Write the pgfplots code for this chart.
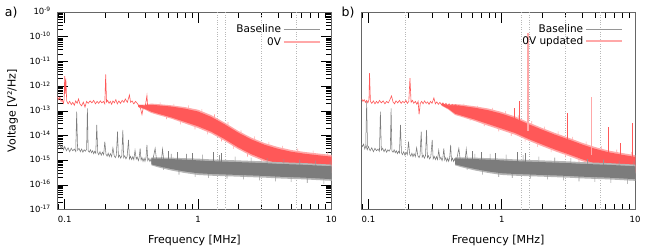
\documentclass[border=0pt]{standalone}
\usepackage{fontspec}
\setmainfont{DejaVu Sans}
\usepackage{pgfplots}
\pgfplotsset{compat=1.18}
\usepackage{pgfplotstable}

\definecolor{redC}{RGB}{255,88,88}
\definecolor{redL}{RGB}{255,168,168}
\definecolor{grayC}{RGB}{124,124,124}
\definecolor{grayM}{RGB}{150,150,150}
\definecolor{grayL}{RGB}{182,182,182}

\pgfplotstableread{
f v
0.447 1.29e-15
0.501 1.29e-15
0.631 1.26e-15
0.794 1.20e-15
1.0 1.15e-15
1.259 1.07e-15
1.413 1.05e-15
1.585 1.02e-15
1.995 9.77e-16
2.512 9.33e-16
3.162 8.91e-16
3.981 8.32e-16
5.012 7.94e-16
6.31 7.59e-16
7.943 7.08e-16
10.05 6.61e-16
10.05 1.45e-16
7.943 1.55e-16
6.31 1.66e-16
5.012 1.74e-16
3.981 1.82e-16
3.162 1.95e-16
2.512 2.04e-16
1.995 2.14e-16
1.585 2.24e-16
1.413 2.29e-16
1.259 2.34e-16
1.0 2.51e-16
0.794 3.02e-16
0.631 3.80e-16
0.501 5.13e-16
0.447 6.17e-16
}\grayout

\pgfplotstableread{
f v
0.447 1.17e-15
0.501 1.15e-15
0.631 1.10e-15
0.794 1.05e-15
1.0 9.77e-16
1.259 9.12e-16
1.413 8.91e-16
1.585 8.71e-16
1.995 8.32e-16
2.512 7.94e-16
3.162 7.59e-16
3.981 7.08e-16
5.012 6.76e-16
6.31 6.46e-16
7.943 6.03e-16
10.05 5.62e-16
10.05 1.70e-16
7.943 1.82e-16
6.31 1.95e-16
5.012 2.04e-16
3.981 2.14e-16
3.162 2.29e-16
2.512 2.40e-16
1.995 2.51e-16
1.585 2.63e-16
1.413 2.69e-16
1.259 2.75e-16
1.0 2.95e-16
0.794 3.47e-16
0.631 4.37e-16
0.501 5.75e-16
0.447 6.76e-16
}\grayin

\pgfplotstableread{
f v
0.55 8.5e-16
0.55 4.0e-16
0.55 8.5e-16
0.63 7.6e-16
0.63 1.78e-15
0.63 7.6e-16
0.72 6.8e-16
0.72 2.6e-16
0.72 6.8e-16
0.82 6.2e-16
0.82 1.78e-15
0.82 6.2e-16
0.95 5.6e-16
0.95 2.1e-16
0.95 5.6e-16
1.08 5.3e-16
1.08 1.66e-15
1.08 5.3e-16
1.2 5.1e-16
1.2 1.9e-16
1.2 5.1e-16
1.45 4.9e-16
1.45 1.58e-15
1.45 4.9e-16
1.65 4.8e-16
1.65 1.8e-16
1.65 4.8e-16
1.9 4.6e-16
1.9 1.38e-15
1.9 4.6e-16
2.2 4.5e-16
2.2 1.66e-16
2.2 4.5e-16
2.5 4.4e-16
2.5 1.26e-15
2.5 4.4e-16
2.9 4.2e-16
2.9 1.51e-16
2.9 4.2e-16
3.3 4.1e-16
3.3 1.20e-15
3.3 4.1e-16
3.8 3.9e-16
3.8 1.38e-16
3.8 3.9e-16
4.4 3.75e-16
4.4 1.10e-15
4.4 3.75e-16
5.0 3.7e-16
5.0 1.32e-16
5.0 3.7e-16
5.8 3.55e-16
5.8 1.05e-15
5.8 3.55e-16
6.6 3.4e-16
6.6 1.20e-16
6.6 3.4e-16
7.6 3.3e-16
7.6 9.55e-16
7.6 3.3e-16
8.8 3.15e-16
8.8 1.10e-16
8.8 3.15e-16
9.8 3.05e-16
9.8 8.91e-16
9.8 3.05e-16
}\grayspk

\pgfplotstableread{
f v
0.088 4.79e-15
0.090 3.55e-15
0.092 4.47e-15
0.094 2.82e-15
0.096 3.98e-15
0.098 2.63e-15
0.100 3.55e-15
0.103 2.40e-15
0.106 3.16e-15
0.109 2.19e-15
0.112 3.02e-15
0.115 2.40e-15
0.118 2.82e-15
0.121 2.24e-15
0.123 9.12e-14
0.125 2.51e-15
0.128 3.02e-15
0.131 2.19e-15
0.134 2.82e-15
0.137 2.09e-15
0.140 2.63e-15
0.143 2.29e-15
0.146 2.82e-15
0.148 1.26e-13
0.150 2.40e-15
0.153 2.09e-15
0.156 2.63e-15
0.159 2.0e-15
0.162 2.40e-15
0.165 1.82e-15
0.168 2.29e-15
0.171 1.91e-15
0.174 2.69e-14
0.177 2.0e-15
0.180 1.66e-15
0.184 2.19e-15
0.188 1.58e-15
0.192 2.09e-15
0.196 1.66e-15
0.200 5.62e-15
0.204 1.74e-15
0.208 1.45e-15
0.212 1.91e-15
0.216 1.38e-15
0.220 1.82e-15
0.225 1.38e-15
0.230 3.16e-15
0.235 1.51e-15
0.240 1.26e-15
0.244 1.58e-15
0.249 1.41e-14
0.253 1.32e-15
0.258 1.58e-15
0.263 1.20e-15
0.268 1.51e-15
0.273 1.66e-14
0.277 1.26e-15
0.282 1.51e-15
0.288 1.12e-15
0.294 1.41e-15
0.301 6.61e-15
0.306 1.12e-15
0.312 1.41e-15
0.318 1.05e-15
0.324 1.38e-15
0.330 1.05e-15
0.337 2.51e-15
0.344 1.10e-15
0.350 1.32e-15
0.357 9.55e-16
0.362 1.26e-15
0.368 3.02e-15
0.374 1.0e-15
0.380 1.26e-15
0.387 8.91e-16
0.394 1.20e-15
0.400 8.91e-16
0.407 1.26e-15
0.414 4.17e-15
0.420 9.55e-16
0.428 1.20e-15
0.436 8.71e-16
0.444 1.12e-15
0.452 8.32e-16
0.460 1.12e-15
0.477 3.0e-15
0.490 9.0e-16
0.510 1.10e-15
0.530 8.3e-16
0.542 2.8e-15
0.555 8.5e-16
}\graythin

\pgfplotsset{legend image code/.code={\draw[#1] (0pt,0pt) -- (36pt,0pt);}}

\begin{document}
\begin{tikzpicture}
\useasboundingbox (0,0) rectangle (664pt,249pt);

% ---------------- panel a ----------------
\begin{axis}[name=axA, at={(57.3pt,39.5pt)}, anchor=south west,
  xmode=log, ymode=log, scale only axis,
  width=274.3pt, height=197.5pt,
  xmin=0.088, xmax=10.05, ymin=1e-17, ymax=1e-9,
  xtick={0.1,1,10}, xticklabels={0.1,1,10},
  minor xtick={0.09,0.2,0.3,0.4,0.5,0.6,0.7,0.8,0.9,2,3,4,5,6,7,8,9},
  ytick={1e-17,1e-16,1e-15,1e-14,1e-13,1e-12,1e-11,1e-10,1e-9},
  yticklabels={10\textsuperscript{-17},10\textsuperscript{-16},10\textsuperscript{-15},10\textsuperscript{-14},10\textsuperscript{-13},10\textsuperscript{-12},10\textsuperscript{-11},10\textsuperscript{-10},10\textsuperscript{-9}},
  minor ytick={2e-17,3e-17,4e-17,5e-17,6e-17,7e-17,8e-17,9e-17,
   2e-16,3e-16,4e-16,5e-16,6e-16,7e-16,8e-16,9e-16,
   2e-15,3e-15,4e-15,5e-15,6e-15,7e-15,8e-15,9e-15,
   2e-14,3e-14,4e-14,5e-14,6e-14,7e-14,8e-14,9e-14,
   2e-13,3e-13,4e-13,5e-13,6e-13,7e-13,8e-13,9e-13,
   2e-12,3e-12,4e-12,5e-12,6e-12,7e-12,8e-12,9e-12,
   2e-11,3e-11,4e-11,5e-11,6e-11,7e-11,8e-11,9e-11,
   2e-10,3e-10,4e-10,5e-10,6e-10,7e-10,8e-10,9e-10},
  tick align=inside,
  major tick length=11pt, minor tick length=6pt,
  tick style={black, line width=0.5pt},
  axis line style={black!60, line width=0.6pt},
  xticklabel style={font=\fontsize{8.5}{10}\selectfont, yshift=-3pt},
  yticklabel style={font=\fontsize{8.5}{10}\selectfont, xshift=-3pt, yshift=0.8pt},
  xlabel={Frequency [MHz]},
  xlabel style={font=\fontsize{11}{13}\selectfont, at={(axis description cs:0.5,0)}, anchor=center, yshift=-30.5pt},
  ylabel={Voltage [V²/Hz]},
  ylabel style={font=\fontsize{11}{13}\selectfont, at={(axis description cs:-0.163,0.5)}, anchor=center},
  extra x ticks={1.4,1.6,3,5.5},
  extra x tick labels={},
  extra x tick style={grid=major, major tick length=0pt},
  grid style={dotted, black!28, line width=0.5pt},
  legend style={at={(1,1)}, anchor=north east, xshift=-11pt, yshift=-10.5pt,
    draw=none, fill=none, inner sep=0pt, row sep=-0.8pt,
    font=\fontsize{10.5}{12}\selectfont},
  legend cell align=right,
  legend plot pos=right,
]
\addlegendimage{grayM, line width=0.5pt}\addlegendentry{Baseline}
\addlegendimage{redL, line width=1.4pt}\addlegendentry{0V}

\addplot[fill=redL, draw=none, forget plot] coordinates {
(0.355,1.78e-13) (0.398,1.78e-13) (0.447,1.95e-13) (0.501,1.86e-13) (0.631,1.66e-13) (0.794,1.41e-13)
(1.0,1.10e-13) (1.259,6.61e-14) (1.413,4.68e-14) (1.585,3.31e-14) (1.995,1.55e-14) (2.512,8.13e-15)
(3.162,4.90e-15) (3.981,3.39e-15) (5.012,2.57e-15) (6.31,2.14e-15) (7.943,1.86e-15) (10.05,1.62e-15)
(10.05,2.95e-16) (7.943,3.39e-16) (6.31,3.89e-16) (5.012,4.68e-16) (3.981,6.17e-16) (3.162,8.91e-16)
(2.512,1.48e-15) (1.995,2.82e-15) (1.585,6.03e-15) (1.413,8.51e-15) (1.259,1.20e-14) (1.0,2.0e-14)
(0.794,3.09e-14) (0.631,4.79e-14) (0.501,6.76e-14) (0.447,8.13e-14) (0.398,1.12e-13) (0.355,1.41e-13)
};
\addplot[redL, line width=0.6pt, forget plot] coordinates {
(0.52,1.07e-13) (0.52,2.19e-13) (0.52,1.07e-13) (0.58,9.77e-14) (0.58,4.57e-14) (0.58,9.77e-14)
(0.66,8.51e-14) (0.66,1.91e-13) (0.66,8.51e-14) (0.74,7.24e-14) (0.74,2.82e-14) (0.74,7.24e-14)
(0.85,6.03e-14) (0.85,1.66e-13) (0.85,6.03e-14) (0.95,5.13e-14) (0.95,1.78e-14) (0.95,5.13e-14)
(1.07,3.98e-14) (1.07,1.17e-13) (1.07,3.98e-14) (1.18,3.24e-14) (1.18,1.10e-14) (1.18,3.24e-14)
(1.33,2.40e-14) (1.33,7.08e-14) (1.33,2.40e-14) (1.50,1.70e-14) (1.50,5.75e-15) (1.50,1.70e-14)
(1.68,1.17e-14) (1.68,3.47e-14) (1.68,1.17e-14) (1.85,8.51e-15) (1.85,2.88e-15) (1.85,8.51e-15)
(2.1,5.50e-15) (2.1,1.62e-14) (2.1,5.50e-15) (2.35,4.07e-15) (2.35,1.38e-15) (2.35,4.07e-15)
(2.65,3.09e-15) (2.65,9.12e-15) (2.65,3.09e-15) (3.0,2.34e-15) (3.0,7.94e-16) (3.0,2.34e-15)
(3.4,1.86e-15) (3.4,5.50e-15) (3.4,1.86e-15) (3.8,1.55e-15) (3.8,5.25e-16) (3.8,1.55e-15)
(4.3,1.29e-15) (4.3,3.80e-15) (4.3,1.29e-15) (4.9,1.12e-15) (4.9,3.80e-16) (4.9,1.12e-15)
(5.6,1.0e-15) (5.6,2.95e-15) (5.6,1.0e-15) (6.4,9.12e-16) (6.4,3.09e-16) (6.4,9.12e-16)
(7.3,8.32e-16) (7.3,2.45e-15) (7.3,8.32e-16) (8.3,7.76e-16) (8.3,2.63e-16) (8.3,7.76e-16)
(9.4,7.24e-16) (9.4,2.14e-15) (9.4,7.24e-16)
};
\addplot[fill=redC, draw=none, forget plot] coordinates {
(0.355,1.70e-13) (0.398,1.66e-13) (0.447,1.74e-13) (0.501,1.66e-13) (0.631,1.48e-13) (0.794,1.23e-13)
(1.0,9.33e-14) (1.259,5.62e-14) (1.413,3.98e-14) (1.585,2.82e-14) (1.995,1.32e-14) (2.512,6.92e-15)
(3.162,4.17e-15) (3.981,2.88e-15) (5.012,2.19e-15) (6.31,1.82e-15) (7.943,1.58e-15) (10.05,1.38e-15)
(10.05,3.47e-16) (7.943,3.98e-16) (6.31,4.57e-16) (5.012,5.50e-16) (3.981,7.24e-16) (3.162,1.05e-15)
(2.512,1.74e-15) (1.995,3.31e-15) (1.585,7.08e-15) (1.413,1.0e-14) (1.259,1.41e-14) (1.0,2.34e-14)
(0.794,3.55e-14) (0.631,5.37e-14) (0.501,7.59e-14) (0.447,9.12e-14) (0.398,1.20e-13) (0.355,1.48e-13)
};
\addplot[redC, line width=0.6pt, forget plot] coordinates {
(0.088,3.8e-13) (0.090,2.82e-13) (0.092,3.55e-13) (0.094,2.4e-13) (0.096,2.63e-13)
(0.098,2.0e-13) (0.099,2.82e-13) (0.100,2.5e-12) (0.101,5.0e-13) (0.102,2.0e-12)
(0.1035,2.5e-13) (0.106,1.9e-13) (0.109,2.4e-13) (0.112,1.78e-13) (0.115,2.19e-13)
(0.118,1.66e-13) (0.121,2.5e-13) (0.124,2.0e-13) (0.127,3.0e-13) (0.130,1.9e-13)
(0.134,1.58e-13) (0.138,2.24e-13) (0.142,1.41e-13) (0.146,2.4e-13) (0.150,2.0e-13)
(0.155,2.5e-13) (0.160,2.09e-13) (0.165,2.63e-13) (0.170,1.9e-13) (0.175,2.4e-13)
(0.180,2.0e-13) (0.185,2.5e-13) (0.190,2.09e-13) (0.195,2.4e-13) (0.200,1.9e-13)
(0.203,3.0e-12) (0.206,2.24e-13) (0.210,2.63e-13) (0.215,2.0e-13) (0.220,2.4e-13)
(0.225,1.82e-13) (0.230,2.5e-13) (0.236,2.09e-13) (0.242,2.82e-13) (0.248,1.9e-13)
(0.255,2.5e-13) (0.262,2.0e-13) (0.270,2.63e-13) (0.278,2.19e-13) (0.285,3.0e-13)
(0.295,2.19e-13) (0.306,4.37e-13) (0.312,2.19e-13) (0.320,2.5e-13) (0.330,1.9e-13)
(0.340,2.4e-13) (0.350,2.0e-13) (0.360,1.58e-13) (0.370,1.26e-13) (0.380,7.08e-14)
(0.390,1.51e-13) (0.400,1.26e-13) (0.414,4.17e-13) (0.420,1.2e-13) (0.430,1.51e-13)
(0.440,1.12e-13) (0.450,1.45e-13) (0.460,1.10e-13) (0.470,1.38e-13) (0.485,1.05e-13)
(0.50,1.41e-13)
};

\addplot[fill=grayL, draw=none, forget plot] table[x=f,y=v]{\grayout};
\addplot[grayM, line width=0.55pt, forget plot] table[x=f,y=v]{\grayspk};
\addplot[fill=grayC, draw=none, forget plot] table[x=f,y=v]{\grayin};
\addplot[grayC, line width=0.55pt, forget plot] table[x=f,y=v]{\graythin};
\addplot[grayC, line width=0.5pt, forget plot] coordinates {(0.60,8.0e-16) (0.60,2.4e-15)};
\addplot[grayC, line width=0.5pt, forget plot] coordinates {(0.70,7.5e-16) (0.70,2.2e-15)};
\addplot[grayC, line width=0.5pt, forget plot] coordinates {(0.90,7.0e-16) (0.90,2.0e-15)};
\addplot[grayC, line width=0.5pt, forget plot] coordinates {(1.3,6.5e-16) (1.3,2.1e-15)};
\addplot[grayC, line width=0.5pt, forget plot] coordinates {(1.5,6.0e-16) (1.5,1.9e-15)};
\end{axis}

% ---------------- panel b ----------------
\begin{axis}[name=axB, at={(361pt,39.5pt)}, anchor=south west,
  xmode=log, ymode=log, scale only axis,
  width=274.3pt, height=197.5pt,
  xmin=0.088, xmax=10.05, ymin=1e-17, ymax=1e-9,
  xtick={0.1,1,10}, xticklabels={0.1,1,10},
  minor xtick={0.09,0.2,0.3,0.4,0.5,0.6,0.7,0.8,0.9,2,3,4,5,6,7,8,9},
  ytick=\empty,
  tick align=inside,
  major tick length=11pt, minor tick length=6pt,
  tick style={black, line width=0.5pt},
  axis line style={black!60, line width=0.6pt},
  xticklabel style={font=\fontsize{8.5}{10}\selectfont, yshift=-3pt},
  xlabel={Frequency [MHz]},
  xlabel style={font=\fontsize{11}{13}\selectfont, at={(axis description cs:0.5,0)}, anchor=center, yshift=-30.5pt},
  extra x ticks={0.19,1.4,1.6,3,5.5},
  extra x tick labels={},
  extra x tick style={grid=major, major tick length=0pt},
  grid style={dotted, black!28, line width=0.5pt},
  legend style={at={(1,1)}, anchor=north east, xshift=-12.5pt, yshift=-10.5pt,
    draw=none, fill=none, inner sep=0pt, row sep=-1.8pt,
    font=\fontsize{10.5}{12}\selectfont},
  legend cell align=right,
  legend plot pos=right,
]
\addlegendimage{grayM, line width=0.5pt}\addlegendentry{Baseline}
\addlegendimage{redL, line width=1.4pt}\addlegendentry{0V updated}

\addplot[fill=redL, draw=none, forget plot] coordinates {
(0.355,2.0e-13) (0.398,1.78e-13) (0.447,1.86e-13) (0.501,1.78e-13) (0.631,1.51e-13) (0.794,1.23e-13)
(1.0,8.91e-14) (1.259,5.89e-14) (1.413,4.47e-14) (1.585,3.39e-14) (1.995,2.04e-14) (2.512,1.26e-14)
(3.162,8.13e-15) (3.981,5.13e-15) (5.012,3.39e-15) (6.31,2.45e-15) (7.943,1.95e-15) (10.05,1.58e-15)
(10.05,2.88e-16) (7.943,3.55e-16) (6.31,4.47e-16) (5.012,6.17e-16) (3.981,9.33e-16) (3.162,1.48e-15)
(2.512,2.29e-15) (1.995,3.72e-15) (1.585,6.17e-15) (1.413,8.13e-15) (1.259,1.07e-14) (1.0,1.62e-14)
(0.794,2.45e-14) (0.631,3.80e-14) (0.501,5.62e-14) (0.447,6.76e-14) (0.398,1.12e-13) (0.355,1.58e-13)
};
\addplot[redL, line width=0.6pt, forget plot] coordinates {
(0.52,9.55e-14) (0.52,1.95e-13) (0.52,9.55e-14) (0.58,8.71e-14) (0.58,3.98e-14) (0.58,8.71e-14)
(0.66,7.24e-14) (0.66,1.58e-13) (0.66,7.24e-14) (0.74,6.17e-14) (0.74,2.40e-14) (0.74,6.17e-14)
(0.85,4.90e-14) (0.85,1.32e-13) (0.85,4.90e-14) (0.95,4.17e-14) (0.95,1.45e-14) (0.95,4.17e-14)
(1.07,3.31e-14) (1.07,9.55e-14) (1.07,3.31e-14) (1.18,2.82e-14) (1.18,9.55e-15) (1.18,2.82e-14)
(1.33,2.19e-14) (1.33,6.46e-14) (1.33,2.19e-14) (1.50,1.66e-14) (1.50,5.62e-15) (1.50,1.66e-14)
(1.68,1.29e-14) (1.68,3.80e-14) (1.68,1.29e-14) (1.85,1.02e-14) (1.85,3.47e-15) (1.85,1.02e-14)
(2.1,7.76e-15) (2.1,2.29e-14) (2.1,7.76e-15) (2.35,6.17e-15) (2.35,2.09e-15) (2.35,6.17e-15)
(2.65,4.90e-15) (2.65,1.45e-14) (2.65,4.90e-15) (3.0,3.80e-15) (3.0,1.29e-15) (3.0,3.80e-15)
(3.4,2.95e-15) (3.4,8.71e-15) (3.4,2.95e-15) (3.8,2.40e-15) (3.8,8.13e-16) (3.8,2.40e-15)
(4.3,1.91e-15) (4.3,5.62e-15) (4.3,1.91e-15) (4.9,1.51e-15) (4.9,5.13e-16) (4.9,1.51e-15)
(5.6,1.26e-15) (5.6,3.72e-15) (5.6,1.26e-15) (6.4,1.02e-15) (6.4,3.47e-16) (6.4,1.02e-15)
(7.3,9.12e-16) (7.3,2.69e-15) (7.3,9.12e-16) (8.3,7.94e-16) (8.3,2.69e-16) (8.3,7.94e-16)
(9.4,7.08e-16) (9.4,2.09e-15) (9.4,7.08e-16)
};
\addplot[fill=redC, draw=none, forget plot] coordinates {
(0.355,1.91e-13) (0.398,1.66e-13) (0.447,1.66e-13) (0.501,1.58e-13) (0.631,1.32e-13) (0.794,1.05e-13)
(1.0,7.59e-14) (1.259,5.01e-14) (1.413,3.80e-14) (1.585,2.88e-14) (1.995,1.74e-14) (2.512,1.07e-14)
(3.162,6.92e-15) (3.981,4.37e-15) (5.012,2.88e-15) (6.31,2.09e-15) (7.943,1.66e-15) (10.05,1.35e-15)
(10.05,3.39e-16) (7.943,4.17e-16) (6.31,5.25e-16) (5.012,7.24e-16) (3.981,1.10e-15) (3.162,1.74e-15)
(2.512,2.69e-15) (1.995,4.37e-15) (1.585,7.24e-15) (1.413,9.55e-15) (1.259,1.26e-14) (1.0,1.91e-14)
(0.794,2.88e-14) (0.631,4.37e-14) (0.501,6.31e-14) (0.447,7.59e-14) (0.398,1.20e-13) (0.355,1.66e-13)
};
\addplot[redC, line width=0.6pt, forget plot] coordinates {
(0.089,3.02e-13) (0.091,2.40e-13) (0.093,2.82e-13) (0.095,2.19e-13) (0.097,2.63e-13)
(0.099,2.09e-13) (0.101,2.82e-13) (0.102,3.31e-12) (0.1035,2.40e-13) (0.106,2.0e-13)
(0.109,2.51e-13) (0.112,1.91e-13) (0.115,2.40e-13) (0.118,2.0e-13) (0.121,2.63e-13)
(0.125,2.09e-13) (0.129,2.51e-13) (0.133,1.91e-13) (0.137,2.40e-13) (0.141,2.09e-13)
(0.145,2.82e-13) (0.149,3.98e-13) (0.153,2.29e-13) (0.157,1.91e-13) (0.161,2.51e-13)
(0.166,2.09e-13) (0.171,2.63e-13) (0.176,2.0e-13) (0.181,2.40e-13) (0.186,2.09e-13)
(0.191,2.63e-13) (0.196,2.0e-13) (0.201,2.40e-13) (0.205,2.09e-12) (0.209,2.19e-13)
(0.214,2.63e-13) (0.219,2.0e-13) (0.225,2.40e-13) (0.231,1.82e-13) (0.236,2.40e-13)
(0.240,7.08e-14) (0.245,2.0e-13) (0.251,2.40e-13) (0.257,1.91e-13) (0.264,2.51e-13)
(0.271,2.0e-13) (0.278,2.29e-13) (0.285,1.82e-13) (0.292,2.40e-13) (0.300,2.0e-13)
(0.310,3.31e-13) (0.318,1.91e-13) (0.326,2.29e-13) (0.335,1.82e-13) (0.344,2.19e-13)
(0.353,1.74e-13) (0.362,2.09e-13) (0.372,1.66e-13) (0.382,2.0e-13) (0.392,1.58e-13)
(0.403,1.91e-13) (0.414,1.51e-13) (0.425,1.82e-13) (0.437,1.45e-13) (0.449,1.74e-13)
(0.465,1.38e-13) (0.48,1.70e-13)
};
\addplot[redC, line width=0.6pt, forget plot] coordinates {(1.24,2.63e-14) (1.24,1.26e-13)};
\addplot[redC, line width=0.6pt, forget plot] coordinates {(1.35,2.14e-14) (1.35,2.51e-13)};
\addplot[redL, line width=1.3pt, forget plot] coordinates {(1.575,1.48e-14) (1.575,1.38e-10)};
\addplot[redC, line width=0.6pt, forget plot] coordinates {(3.1,3.63e-15) (3.1,7.94e-14)};
\addplot[redL, line width=1.3pt, forget plot] coordinates {(4.71,1.58e-15) (4.71,3.72e-13)};
\addplot[redC, line width=0.6pt, forget plot] coordinates {(6.27,1.05e-15) (6.27,2.29e-14)};
\addplot[redC, line width=0.6pt, forget plot] coordinates {(7.8,8.51e-16) (7.8,4.79e-15)};
\addplot[redC, line width=0.6pt, forget plot] coordinates {(9.54,7.08e-16) (9.54,3.16e-14)};

\addplot[fill=grayL, draw=none, forget plot] table[x=f,y=v]{\grayout};
\addplot[grayM, line width=0.55pt, forget plot] table[x=f,y=v]{\grayspk};
\addplot[fill=grayC, draw=none, forget plot] table[x=f,y=v]{\grayin};
\addplot[grayC, line width=0.55pt, forget plot] table[x=f,y=v]{\graythin};
\addplot[grayC, line width=0.5pt, forget plot] coordinates {(0.0955,4.0e-15) (0.097,2.34e-13) (0.0985,3.5e-15)};
\addplot[grayC, line width=0.5pt, forget plot] coordinates {(0.60,8.0e-16) (0.60,2.4e-15)};
\addplot[grayC, line width=0.5pt, forget plot] coordinates {(0.70,7.5e-16) (0.70,2.2e-15)};
\addplot[grayC, line width=0.5pt, forget plot] coordinates {(0.90,7.0e-16) (0.90,2.0e-15)};
\addplot[grayC, line width=0.5pt, forget plot] coordinates {(1.3,6.5e-16) (1.3,2.1e-15)};
\addplot[grayC, line width=0.5pt, forget plot] coordinates {(1.5,6.0e-16) (1.5,1.9e-15)};
\end{axis}

\node[font=\fontsize{12.5}{14}\selectfont, anchor=west, inner sep=0pt] at ([xshift=-52.5pt,yshift=-1pt]axA.north west) {a)};
\node[font=\fontsize{12.5}{14}\selectfont, anchor=west, inner sep=0pt] at ([xshift=-19.5pt,yshift=-1pt]axB.north west) {b)};
\end{tikzpicture}
\end{document}
